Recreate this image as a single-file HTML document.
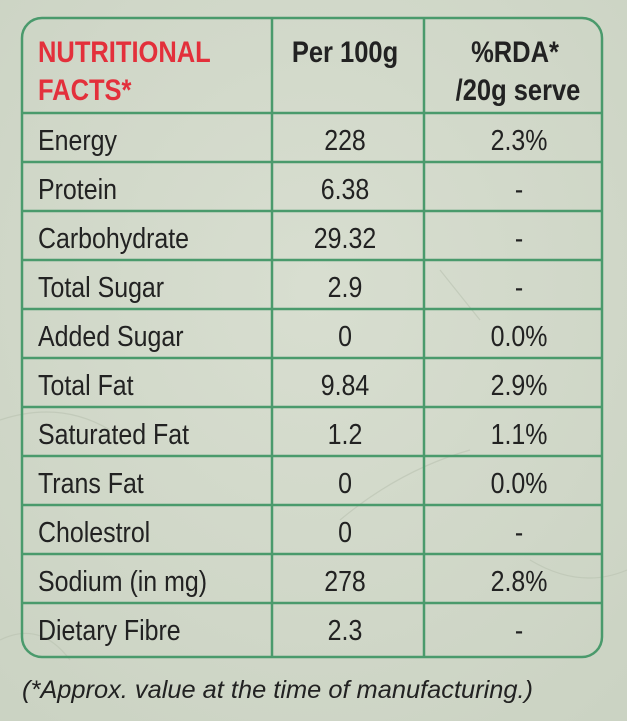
<!DOCTYPE html>
<html><head><meta charset="utf-8"><style>
html,body{margin:0;padding:0;width:627px;height:721px;overflow:hidden;background:#d3d9cb}
svg{display:block}
text{font-family:"Liberation Sans",Arial,sans-serif;fill:#222}
</style></head><body>
<svg width="627" height="721" viewBox="0 0 627 721" xmlns="http://www.w3.org/2000/svg">
<defs>
<radialGradient id="bg" cx="50%" cy="40%" r="75%">
<stop offset="0" stop-color="#d8ded0"/><stop offset="1" stop-color="#cbd3c3"/>
</radialGradient>
</defs>
<rect width="627" height="721" fill="url(#bg)"/>
<g fill="none" stroke="#bcc5b3" stroke-width="1.2" opacity="0.7">
<path d="M0 420 Q60 400 110 430"/><path d="M440 270 L480 320"/><path d="M340 520 Q400 470 470 450"/>
<path d="M530 560 Q580 590 627 570"/><path d="M0 640 Q40 620 70 660"/>
</g>
<g stroke="#4a9a6c" stroke-width="2.5" fill="none">
<rect x="22" y="18" width="580" height="639" rx="20" ry="20"/>
<line x1="272" y1="18" x2="272" y2="657"/>
<line x1="424" y1="18" x2="424" y2="657"/>
<line x1="22" y1="113" x2="602" y2="113"/>
<line x1="22" y1="162" x2="602" y2="162"/>
<line x1="22" y1="211" x2="602" y2="211"/>
<line x1="22" y1="260" x2="602" y2="260"/>
<line x1="22" y1="309" x2="602" y2="309"/>
<line x1="22" y1="358" x2="602" y2="358"/>
<line x1="22" y1="407" x2="602" y2="407"/>
<line x1="22" y1="456" x2="602" y2="456"/>
<line x1="22" y1="505" x2="602" y2="505"/>
<line x1="22" y1="554" x2="602" y2="554"/>
<line x1="22" y1="603" x2="602" y2="603"/>
</g>
<g font-weight="bold" font-size="30">
<text transform="translate(38,62) scale(0.85,1)" style="fill:#e3303b">NUTRITIONAL</text>
<text transform="translate(38,100) scale(0.85,1)" style="fill:#e3303b">FACTS*</text>
<text transform="translate(345,62) scale(0.85,1)" text-anchor="middle">Per 100g</text>
<text transform="translate(515,62) scale(0.85,1)" text-anchor="middle">%RDA*</text>
<text transform="translate(518,100) scale(0.85,1)" text-anchor="middle">/20g serve</text>
</g>
<g font-size="29">
<text transform="translate(38,150) scale(0.86,1)">Energy</text>
<text transform="translate(38,199) scale(0.86,1)">Protein</text>
<text transform="translate(38,248) scale(0.86,1)">Carbohydrate</text>
<text transform="translate(38,297) scale(0.86,1)">Total Sugar</text>
<text transform="translate(38,346) scale(0.86,1)">Added Sugar</text>
<text transform="translate(38,395) scale(0.86,1)">Total Fat</text>
<text transform="translate(38,444) scale(0.86,1)">Saturated Fat</text>
<text transform="translate(38,493) scale(0.86,1)">Trans Fat</text>
<text transform="translate(38,542) scale(0.86,1)">Cholestrol</text>
<text transform="translate(38,591) scale(0.86,1)">Sodium (in mg)</text>
<text transform="translate(38,640) scale(0.86,1)">Dietary Fibre</text>
<g text-anchor="middle">
<text transform="translate(345,150) scale(0.86,1)">228</text>
<text transform="translate(345,199) scale(0.86,1)">6.38</text>
<text transform="translate(345,248) scale(0.86,1)">29.32</text>
<text transform="translate(345,297) scale(0.86,1)">2.9</text>
<text transform="translate(345,346) scale(0.86,1)">0</text>
<text transform="translate(345,395) scale(0.86,1)">9.84</text>
<text transform="translate(345,444) scale(0.86,1)">1.2</text>
<text transform="translate(345,493) scale(0.86,1)">0</text>
<text transform="translate(345,542) scale(0.86,1)">0</text>
<text transform="translate(345,591) scale(0.86,1)">278</text>
<text transform="translate(345,640) scale(0.86,1)">2.3</text>
<text transform="translate(519,150) scale(0.86,1)">2.3%</text>
<text transform="translate(519,199) scale(0.86,1)">-</text>
<text transform="translate(519,248) scale(0.86,1)">-</text>
<text transform="translate(519,297) scale(0.86,1)">-</text>
<text transform="translate(519,346) scale(0.86,1)">0.0%</text>
<text transform="translate(519,395) scale(0.86,1)">2.9%</text>
<text transform="translate(519,444) scale(0.86,1)">1.1%</text>
<text transform="translate(519,493) scale(0.86,1)">0.0%</text>
<text transform="translate(519,542) scale(0.86,1)">-</text>
<text transform="translate(519,591) scale(0.86,1)">2.8%</text>
<text transform="translate(519,640) scale(0.86,1)">-</text>
</g>
</g>
<text x="22" y="698" font-size="25" font-style="italic" textLength="511" lengthAdjust="spacingAndGlyphs">(*Approx. value at the time of manufacturing.)</text>
</svg>
</body></html>
